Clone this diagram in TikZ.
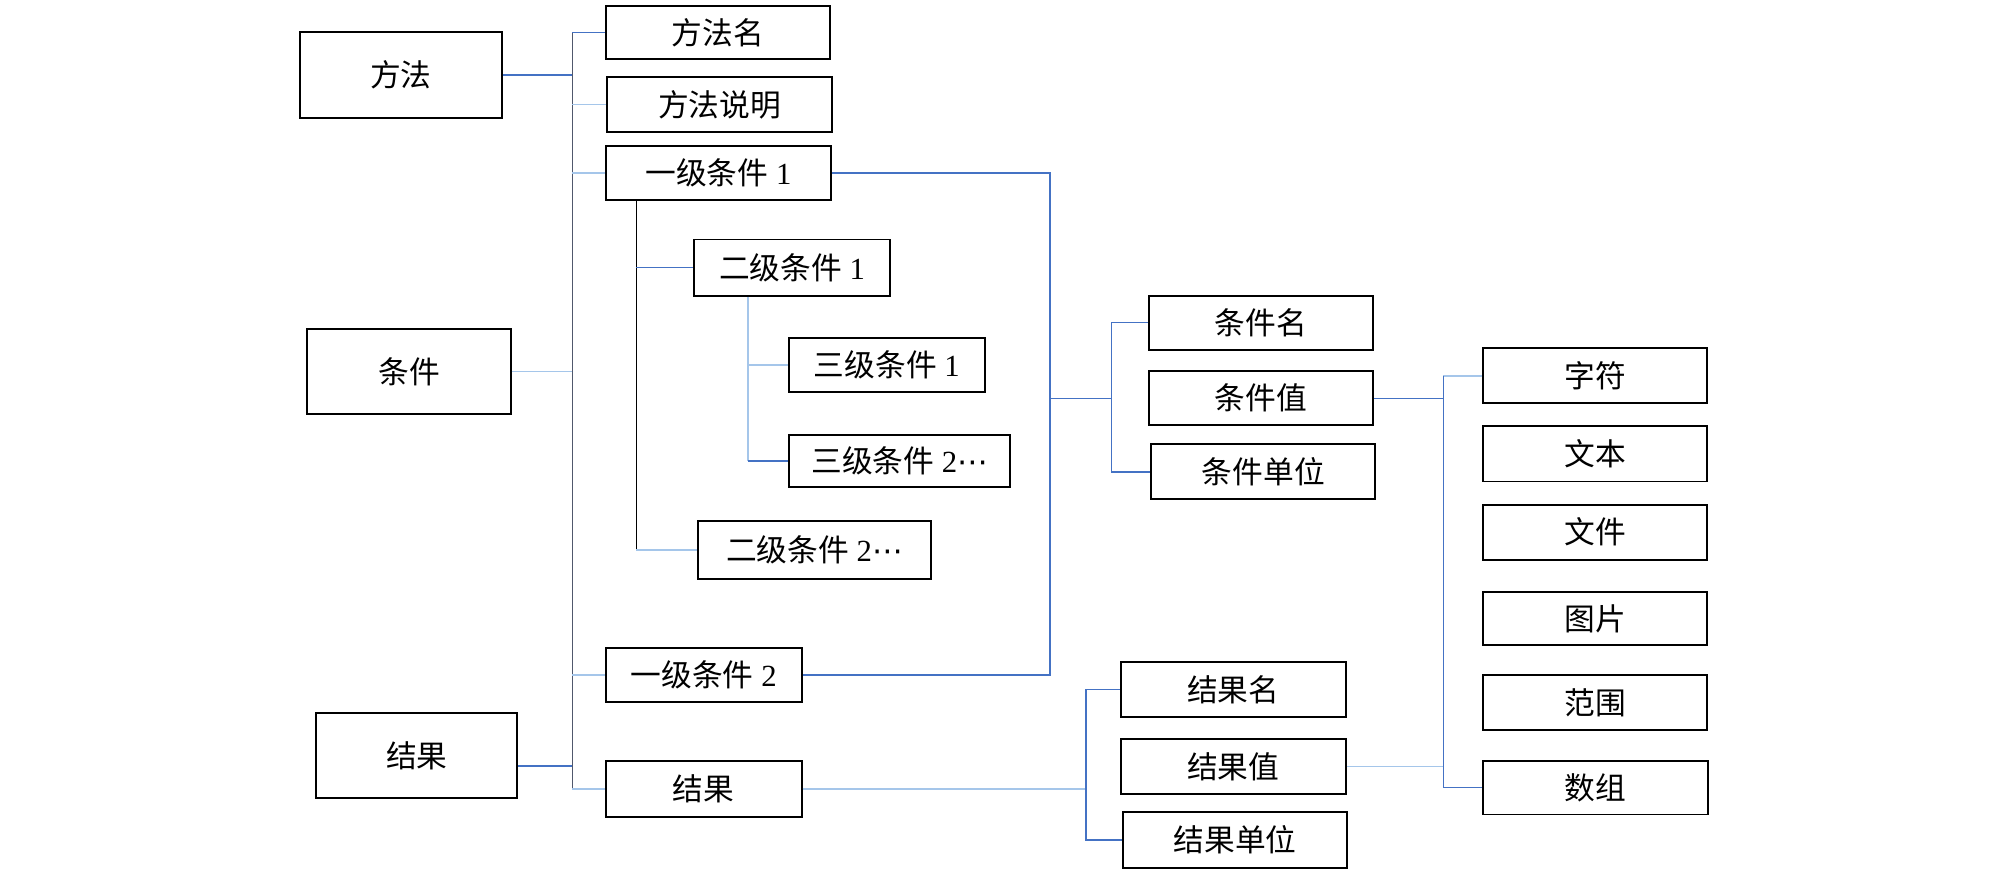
\documentclass[tikz,border=0pt]{standalone}
\usepackage{fontspec}
\usetikzlibrary{calc}
\setmainfont{Liberation Serif}
\newfontfamily\cjk{Noto Sans CJK SC}
\newfontfamily\dvs{DejaVu Sans}
\newcommand{\zh}[1]{{\cjk #1}}
\newcommand{\cdts}{{\dvs\fontsize{24}{28}\selectfont ⋯}}
\definecolor{lnblue}{RGB}{68,114,196}
\definecolor{lnlight}{RGB}{165,198,234}
\definecolor{lntrunk}{RGB}{80,88,108}
\tikzset{
  bx/.style={draw=black, line width=1.5pt, fill=white, inner sep=0pt,
    font=\fontsize{24}{28}\selectfont, minimum width=#1},
  bx/.default=175,
  cb/.style={draw=lnblue, line width=1.1pt},
  cl/.style={draw=lnlight, line width=1.1pt},
  ct/.style={draw=lntrunk, line width=1.1pt},
  ck/.style={draw=black, line width=1.5pt},
}
\begin{document}
\begin{tikzpicture}[x=1pt,y=-1pt]
\useasboundingbox (0,0) rectangle (1568,682);
% coordinates of vertical buses
\coordinate (tk) at (447,0);
\coordinate (k1) at (497,0);
\coordinate (k2) at (584,0);
\coordinate (k3) at (820,0);
\coordinate (k4) at (868,0);
\coordinate (k5) at (1127,0);
\coordinate (k6) at (848,0);
% left boxes
\node[bx=158, minimum height=67] (m) at (313,58.5) {\zh{方法}};
\node[bx=159, minimum height=66] (c) at (319.5,290) {\zh{条件}};
\node[bx=157, minimum height=66] (r) at (325.5,590) {\zh{结果}};
\coordinate (re) at ($(r.east)+(0,8)$);
% second column
\node[bx=175, minimum height=41] (mn) at (560.5,25.5) {\zh{方法名}};
\node[bx=176, minimum height=43] (ms) at (562,81.5) {\zh{方法说明}};
\node[bx=176, minimum height=42] (c1) at (561,135) {\zh{一级条件} 1};
\node[bx=153, minimum height=44] (c21) at (618.5,209) {\zh{二级条件} 1};
\node[bx=153, minimum height=42] (c31) at (692.5,285) {\zh{三级条件} 1};
\node[bx=173, minimum height=40] (c32) at (702.5,360) {\zh{三级条件} 2\cdts};
\node[bx=182, minimum height=45] (c22) at (636,429.5) {\zh{二级条件} 2\cdts};
\node[bx=153, minimum height=42] (c2) at (549.5,527) {\zh{一级条件} 2};
\node[bx=153, minimum height=44] (r2) at (549.5,616) {\zh{结果}};
% condition attributes
\node[bx=175, minimum height=42] (cn) at (984.5,252) {\zh{条件名}};
\node[bx=175, minimum height=42] (cv) at (984.5,311) {\zh{条件值}};
\node[bx=175, minimum height=43] (cu) at (986.5,368.5) {\zh{条件单位}};
% result attributes
\node[bx=176, minimum height=43] (rn) at (963,538.5) {\zh{结果名}};
\node[bx=176, minimum height=43] (rv) at (963,598.5) {\zh{结果值}};
\node[bx=175, minimum height=44] (ru) at (964.5,656) {\zh{结果单位}};
% types
\node[bx=175, minimum height=43] (t1) at (1245.5,293.5) {\zh{字符}};
\node[bx=175, minimum height=43] (t2) at (1245.5,354.5) {\zh{文本}};
\node[bx=175, minimum height=43] (t3) at (1245.5,415.5) {\zh{文件}};
\node[bx=175, minimum height=42] (t4) at (1245.5,483) {\zh{图片}};
\node[bx=175, minimum height=43] (t5) at (1245.5,548.5) {\zh{范围}};
\node[bx=176, minimum height=42] (t6) at (1246,615) {\zh{数组}};

% ---- connectors ----
% trunk
\draw[ct] (tk |- mn.west) -- (tk |- r2.west);
\draw[cb] (mn.west) -- (tk |- mn.west);
\draw[cb] (m.east) -- (tk |- m.east);
\draw[cl] (ms.west) -- (tk |- ms.west);
\draw[cl] (c1.west) -- (tk |- c1.west);
\draw[cl] (c.east) -- (tk |- c.east);
\draw[cl] (c2.west) -- (tk |- c2.west);
\draw[cb] (re) -- (tk |- re);
\draw[cl] (r2.west) -- (tk |- r2.west);
% level 2
\draw[ck] (k1 |- c1.south) -- (k1 |- c22.west);
\draw[cb] (k1 |- c21.west) -- (c21.west);
\draw[cl] (k1 |- c22.west) -- (c22.west);
% level 3
\draw[cl] (k2 |- c21.south) -- (k2 |- c32.west);
\draw[cl] (k2 |- c31.west) -- (c31.west);
\draw[cb] (k2 |- c32.west) -- (c32.west);
% right side of conditions
\draw[cb] (c1.east) -- (k3 |- c1.east) -- (k3 |- c2.east) -- (c2.east);
\draw[cb] (k3 |- cv.west) -- (k4 |- cv.west);
\draw[cb] (cn.west) -- (k4 |- cn.west) -- (k4 |- cu.west) -- (cu.west);
% value types
\draw[cb] (cv.east) -- (k5 |- cv.east);
\draw[cl] (t1.west) -- (k5 |- t1.west);
\draw[cb] (k5 |- t1.west) -- (k5 |- t6.west) -- (t6.west);
\draw[cl] (rv.east) -- (k5 |- rv.east);
% results
\draw[cl] (r2.east) -- (k6 |- r2.east);
\draw[cb] (rn.west) -- (k6 |- rn.west) -- (k6 |- ru.west) -- (ru.west);
\end{tikzpicture}
\end{document}
